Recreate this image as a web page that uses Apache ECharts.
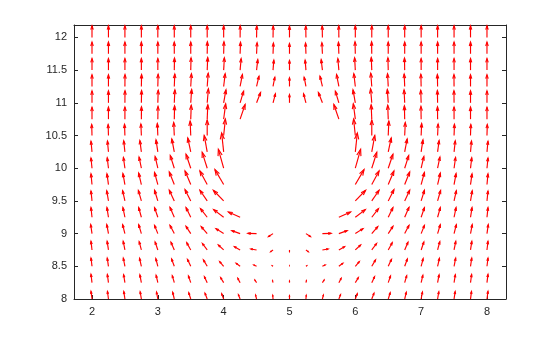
<!DOCTYPE html>
<html><head><meta charset="utf-8">
<script src="https://cdn.jsdelivr.net/npm/echarts@6/dist/echarts.min.js"></script>
<style>html,body{margin:0;padding:0;background:#fff}#c{width:560px;height:337px}</style>
</head><body><div id="c"></div>
<script>
// grid of arrow tails
const xs = [2,2.25,2.5,2.75,3,3.25,3.5,3.75,4,4.25,4.5,4.75,5,5.25,5.5,5.75,6,6.25,6.5,6.75,7,7.25,7.5,7.75,8];
const ys = [8,8.25,8.5,8.75,9,9.25,9.5,9.75,10,10.25,10.5,10.75,11,11.25,11.5,11.75,12];
// horizontal components (row per y value, null = masked)
const U = [
[-1,-1,-1.1,-1.2,-1.3,-1.6,-2,-2.2,-2,-1.7,-1,-0.3,0,0.3,1,1.7,2,2.2,2,1.6,1.3,1.2,1.1,1,1],
[-1,-1.1,-1.3,-1.5,-1.7,-2,-2.3,-2.8,-3,-2.3,-1.7,-0.5,0,0.5,1.7,2.3,3,2.8,2.3,2,1.7,1.5,1.3,1.1,1],
[-1,-1.2,-1.6,-1.8,-2,-2.7,-3.3,-3.8,-4,-4,-2.7,-0.7,0,0.7,2.7,4,4,3.8,3.3,2.7,2,1.8,1.6,1.2,1],
[-1,-1.3,-1.7,-2.2,-2.7,-3.3,-4,-4.8,-5.3,-5.7,-5.7,-2.3,0,2.3,5.7,5.7,5.3,4.8,4,3.3,2.7,2.2,1.7,1.3,1],
[-1.3,-1.7,-2.3,-2.7,-3.3,-4.3,-4.7,-6,-7.7,-8.3,-8.7,-4.5,0,4.5,8.7,8.3,7.7,6,4.7,4.3,3.3,2.7,2.3,1.7,1.3],
[-1,-1.5,-2,-2.7,-3.3,-4.3,-4.7,-6.7,-10,-11.7,null,null,null,null,null,11.7,10,6.7,4.7,4.3,3.3,2.7,2,1.5,1],
[-1,-1.7,-2.3,-3,-3.3,-5,-5.7,-7.3,-10.3,null,null,null,null,null,null,null,10.3,7.3,5.7,5,3.3,3,2.3,1.7,1],
[-1,-1.5,-2,-2.7,-3.3,-5,-5.7,-7.3,-8.7,null,null,null,null,null,null,null,8.7,7.3,5.7,5,3.3,2.7,2,1.5,1],
[-1,-1.2,-1.5,-2.3,-2.7,-4,-4.7,-5,-5.3,null,null,null,null,null,null,null,5.3,5,4.7,4,2.7,2.3,1.5,1.2,1],
[-1,-1,-1.2,-1.5,-1.8,-2.5,-3,-3,-2,null,null,null,null,null,null,null,2,3,3,2.5,1.8,1.5,1.2,1,1],
[-0.3,-0.3,-0.4,-0.5,-0.5,-0.6,-0.6,0,1.7,null,null,null,null,null,null,null,-1.7,0,0.6,0.6,0.5,0.5,0.4,0.3,0.3],
[0,0,0,0.1,0.2,0.3,0.5,0.6,2,5,null,null,null,null,null,-5,-2,-0.6,-0.5,-0.3,-0.2,-0.1,0,0,0],
[0,0,0.1,0.2,0.4,0.6,0.9,1.2,2.3,3.5,4,2.4,0,-2.4,-4,-3.5,-2.3,-1.2,-0.9,-0.6,-0.4,-0.2,-0.1,0,0],
[0,0,0.1,0.2,0.3,0.5,0.7,1,1.5,2.3,2.4,1.8,0,-1.8,-2.4,-2.3,-1.5,-1,-0.7,-0.5,-0.3,-0.2,-0.1,0,0],
[0,0,0,0,0,0.2,0.3,0.5,0.7,1,1.2,0.8,0,-0.8,-1.2,-1,-0.7,-0.5,-0.3,-0.2,0,0,0,0,0],
[0,0,0,0,0,0,0,0.2,0.3,0.4,0.5,0.4,0,-0.4,-0.5,-0.4,-0.3,-0.2,0,0,0,0,0,0,0],
[0,0,0,0,0,0,0,0,0,0.1,0.2,0.2,0,-0.2,-0.2,-0.1,0,0,0,0,0,0,0,0,0]
];
// vertical components
const V = [
[7.7,7.6,7.5,7.3,7,6.7,6.3,5.8,5.3,4.3,4,3.7,3.3,3.7,4,4.3,5.3,5.8,6.3,6.7,7,7.3,7.5,7.6,7.7],
[8.3,8.2,8,7.8,7.3,7,6.7,6,5,4.3,2.7,2,1.7,2,2.7,4.3,5,6,6.7,7,7.3,7.8,8,8.2,8.3],
[8.3,8.3,8.2,8,7.7,7.3,7,6.5,4.7,3,1.3,0.5,0.3,0.5,1.3,3,4.7,6.5,7,7.3,7.7,8,8.2,8.3,8.3],
[8.7,8.7,8.7,8.3,8,7.7,7.3,6.5,5,3.3,1,-1.7,-1.5,-1.7,1,3.3,5,6.5,7.3,7.7,8,8.3,8.7,8.7,8.7],
[9,9,9,9,8.3,8.3,7.3,7,5,3,0.3,-3,0,-3,0.3,3,5,7,7.3,8.3,8.3,9,9,9,9],
[9.7,9.7,9.7,9.7,9.7,10,9.7,8.7,7.7,5.3,null,null,null,null,null,5.3,7.7,8.7,9.7,10,9.7,9.7,9.7,9.7,9.7],
[10,10.2,10.3,10.5,10.7,10.7,11.3,10.7,10.7,null,null,null,null,null,null,null,10.7,10.7,11.3,10.7,10.7,10.5,10.3,10.2,10],
[10.7,10.8,11,11.5,12.2,12.7,13.7,13.7,15,null,null,null,null,null,null,null,15,13.7,13.7,12.7,12.2,11.5,11,10.8,10.7],
[10.3,10.5,10.8,11.2,11.7,12.7,14,16,19,null,null,null,null,null,null,null,19,16,14,12.7,11.7,11.2,10.8,10.5,10.3],
[10.7,10.8,11,11.3,12,13,14,16.5,19,null,null,null,null,null,null,null,19,16.5,14,13,12,11.3,11,10.8,10.7],
[11,11,11.2,11.5,12,13,14.5,15.5,16.5,null,null,null,null,null,null,null,16.5,15.5,14.5,13,12,11.5,11.2,11,11],
[12,12.1,12.2,12.4,12.8,13.3,14,14.5,15.5,14.7,null,null,null,null,null,14.7,15.5,14.5,14,13.3,12.8,12.4,12.2,12.1,12],
[12,12,12.1,12.3,12.6,13,13.4,14,13,11.7,10.3,9,8.2,9,10.3,11.7,13,14,13.4,13,12.6,12.3,12.1,12,12],
[11.8,11.8,11.9,12,12.2,12.5,12.8,13.3,12.8,12,10.3,9.3,8.7,9.3,10.3,12,12.8,13.3,12.8,12.5,12.2,12,11.9,11.8,11.8],
[11.7,11.7,11.7,11.7,11.7,12,12.3,12.7,12.3,11.5,10.5,10,9.7,10,10.5,11.5,12.3,12.7,12.3,12,11.7,11.7,11.7,11.7,11.7],
[11.7,11.7,11.7,11.7,11.7,11.7,11.7,12,12,11.5,11,10.7,10.3,10.7,11,11.5,12,12,11.7,11.7,11.7,11.7,11.7,11.7,11.7],
[11.7,11.7,11.7,11.7,11.7,11.7,11.7,11.7,11.7,11.6,11.5,11.4,11.3,11.4,11.5,11.6,11.7,11.7,11.7,11.7,11.7,11.7,11.7,11.7,11.7]
];
const xTickLabels = [2,3,4,5,6,7,8];
const yTickLabels = [8,8.5,9,9.5,10,10.5,11,11.5,12];

const ARROW_SCALE = 0.0152;
const XMIN = 1.7266, XMAX = 8.289, YMIN = 8, YMAX = 12.19;

const data = [];
for (let i = 0; i < ys.length; i++) {
  for (let j = 0; j < xs.length; j++) {
    if (U[i][j] === null || V[i][j] === null) continue;
    data.push([xs[j], ys[i], U[i][j], V[i][j]]);
  }
}

function renderItem(params, api) {
  const x = api.value(0), y = api.value(1), u = api.value(2), v = api.value(3);
  if (u === 0 && v === 0) return {type: 'group', children: []};
  const p0 = api.coord([x, y]);
  const p1 = api.coord([x + u * ARROW_SCALE, y + v * ARROW_SCALE]);
  const dx = p1[0] - p0[0], dy = p1[1] - p0[1];
  const a = 0.33, b = 0.33;
  const h1 = [p1[0] - a * (dx + b * dy), p1[1] - a * (dy - b * dx)];
  const h2 = [p1[0] - a * (dx - b * dy), p1[1] - a * (dy + b * dx)];
  const st = {stroke: '#ff0000', lineWidth: 1.15, fill: null};
  return {type: 'group', children: [
    {type: 'polyline', shape: {points: [p0, p1]}, style: st},
    {type: 'polyline', shape: {points: [h1, p1, h2]}, style: st}
  ]};
}

const FONT = 'Liberation Sans, Arial, Helvetica, sans-serif';
const lineCol = '#262626';
function fmtX(v) { return xTickLabels.some(t => Math.abs(t - v) < 1e-6) ? String(Math.round(v)) : ''; }
function fmtY(v) { return yTickLabels.some(t => Math.abs(t - v) < 1e-6) ? String(Math.round(v * 2) / 2) : ''; }

function axisBase(min, max, minInt, pos, labels, fmt) {
  return {
    type: 'value', position: pos, min: min, max: max,
    minInterval: minInt, maxInterval: minInt, splitNumber: 8,
    axisLine: {show: true, onZero: false, lineStyle: {color: lineCol, width: 1}},
    axisTick: {show: true, inside: true, length: 4, lineStyle: {color: lineCol, width: 1}},
    axisLabel: {show: labels, formatter: fmt, color: lineCol, fontSize: 11, fontFamily: FONT, margin: 7,
                showMinLabel: true, showMaxLabel: true},
    splitLine: {show: false}
  };
}

const chart = echarts.init(document.getElementById('c'), null, {renderer: 'canvas'});
chart.setOption({
  animation: false,
  backgroundColor: '#ffffff',
  grid: {left: 74, right: 54, top: 25, bottom: 38, containLabel: false},
  xAxis: [
    axisBase(XMIN, XMAX, 1, 'bottom', true, fmtX),
    axisBase(XMIN, XMAX, 1, 'top', false, fmtX)
  ],
  yAxis: [
    axisBase(YMIN, YMAX, 0.5, 'left', true, fmtY),
    axisBase(YMIN, YMAX, 0.5, 'right', false, fmtY)
  ],
  series: [{
    type: 'custom',
    renderItem: renderItem,
    xAxisIndex: 0, yAxisIndex: 0,
    encode: {x: 0, y: 1},
    clip: false,
    silent: true,
    data: data
  }]
});
</script>
</body></html>
